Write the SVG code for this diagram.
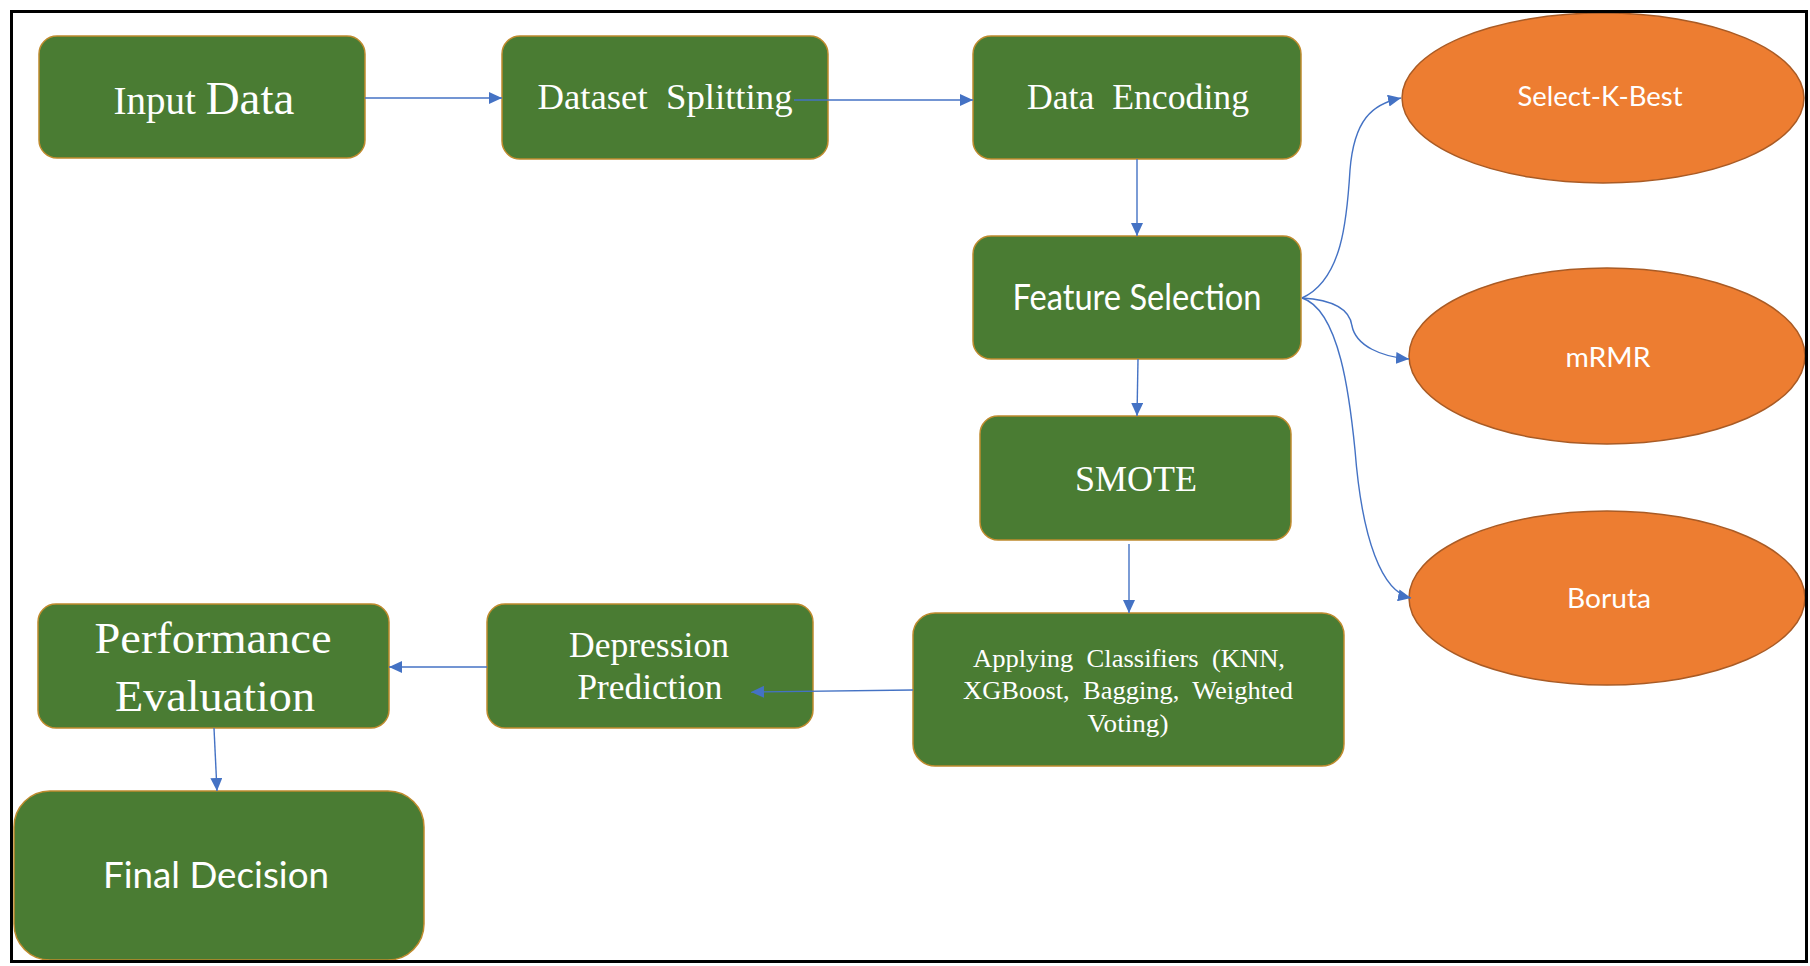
<svg xmlns="http://www.w3.org/2000/svg" width="1810" height="966" viewBox="0 0 1810 966">
<style>
.box{fill:#4A7C33;stroke:#BF8B2E;stroke-width:1.5}
.ell{fill:#ED7D31;stroke:#A95B25;stroke-width:1.5}
.serif{font-family:"Liberation Serif","Times New Roman",serif;fill:#FFFFFF}
.sans{font-family:Lato,"Open Sans","Liberation Sans",sans-serif;fill:#FFFFFF}
.c{fill:none;stroke:#4472C4;stroke-width:1.4}
</style>
<defs>
<marker id="ah" markerUnits="userSpaceOnUse" markerWidth="14" markerHeight="12" refX="13" refY="6" orient="auto">
<path d="M0,0 L13,6 L0,12 Z" fill="#4472C4"/>
</marker>
</defs>
<rect x="0" y="0" width="1810" height="966" fill="#FFFFFF"/>

<g id="select-k-best">
<ellipse class="ell" cx="1603" cy="98" rx="201" ry="85"/>
<text class="sans" x="1600" y="106" font-size="27" text-anchor="middle" textLength="165" lengthAdjust="spacingAndGlyphs">Select-K-Best</text>
</g>
<g id="mrmr">
<ellipse class="ell" cx="1607" cy="356" rx="198" ry="88"/>
<text class="sans" x="1608" y="367" font-size="27" text-anchor="middle" textLength="85" lengthAdjust="spacingAndGlyphs">mRMR</text>
</g>
<g id="boruta">
<ellipse class="ell" cx="1607" cy="598" rx="198" ry="87"/>
<text class="sans" x="1609" y="608" font-size="27" text-anchor="middle" textLength="84" lengthAdjust="spacingAndGlyphs">Boruta</text>
</g>

<g id="input-data">
<rect class="box" x="39" y="36" width="326" height="122" rx="18"/>
<text class="serif" x="204" y="114" text-anchor="middle"><tspan font-size="39">Input </tspan><tspan font-size="47">Data</tspan></text>
</g>
<g id="dataset-splitting">
<rect class="box" x="502" y="36" width="326" height="123" rx="18"/>
<text class="serif" x="665" y="109" font-size="35" text-anchor="middle" textLength="255" lengthAdjust="spacingAndGlyphs" xml:space="preserve">Dataset  Splitting</text>
</g>
<g id="data-encoding">
<rect class="box" x="973" y="36" width="328" height="123" rx="18"/>
<text class="serif" x="1138" y="109" font-size="35" text-anchor="middle" textLength="222" lengthAdjust="spacingAndGlyphs" xml:space="preserve">Data  Encoding</text>
</g>
<g id="feature-selection">
<rect class="box" x="973" y="236" width="328" height="123" rx="18"/>
<text class="sans" x="1137" y="310" font-size="36" text-anchor="middle" textLength="249" lengthAdjust="spacingAndGlyphs">Feature Selection</text>
</g>
<g id="smote">
<rect class="box" x="980" y="416" width="311" height="124" rx="18"/>
<text class="serif" x="1136" y="491" font-size="36" text-anchor="middle" textLength="122" lengthAdjust="spacingAndGlyphs">SMOTE</text>
</g>
<g id="applying-classifiers">
<rect class="box" x="913" y="613" width="431" height="153" rx="22"/>
<text class="serif" font-size="25" text-anchor="middle" xml:space="preserve"><tspan x="1129" y="667" textLength="312" lengthAdjust="spacingAndGlyphs">Applying  Classifiers  (KNN,</tspan><tspan x="1128" y="699" textLength="330" lengthAdjust="spacingAndGlyphs">XGBoost,  Bagging,  Weighted</tspan><tspan x="1128" y="732" textLength="81" lengthAdjust="spacingAndGlyphs">Voting)</tspan></text>
</g>
<g id="depression-prediction">
<rect class="box" x="487" y="604" width="326" height="124" rx="18"/>
<text class="serif" font-size="36" text-anchor="middle"><tspan x="649" y="657" textLength="160" lengthAdjust="spacingAndGlyphs">Depression</tspan><tspan x="650" y="699" textLength="145" lengthAdjust="spacingAndGlyphs">Prediction</tspan></text>
</g>
<g id="performance-evaluation">
<rect class="box" x="38" y="604" width="351" height="124" rx="18"/>
<text class="serif" font-size="45" text-anchor="middle"><tspan x="213" y="653" textLength="237" lengthAdjust="spacingAndGlyphs">Performance</tspan><tspan x="215" y="711" textLength="200" lengthAdjust="spacingAndGlyphs">Evaluation</tspan></text>
</g>
<g id="final-decision">
<rect class="box" x="14" y="791" width="410" height="169" rx="36"/>
<text class="sans" x="216" y="888" font-size="37" text-anchor="middle" textLength="226" lengthAdjust="spacingAndGlyphs">Final Decision</text>
</g>

<g id="connectors">
<path class="c" d="M365,98 L502,98" marker-end="url(#ah)"/>
<path class="c" d="M794,100 L973,100" marker-end="url(#ah)"/>
<path class="c" d="M1137,159 L1137,236" marker-end="url(#ah)"/>
<path class="c" d="M1138,359 L1137,416" marker-end="url(#ah)"/>
<path class="c" d="M1129,544 L1129,613" marker-end="url(#ah)"/>
<path class="c" d="M913,690 L751,692" marker-end="url(#ah)"/>
<path class="c" d="M487,667 L389,667" marker-end="url(#ah)"/>
<path class="c" d="M214,728 L217,791" marker-end="url(#ah)"/>
<path class="c" d="M1302,298 C1342,280 1347,220 1350,170 C1354,120 1372,104 1401,98" marker-end="url(#ah)"/>
<path class="c" d="M1302,298 C1335,300 1350,310 1352,326 C1356,346 1382,357 1409,359" marker-end="url(#ah)"/>
<path class="c" d="M1302,298 C1340,310 1350,400 1355,450 C1362,540 1382,592 1411,598" marker-end="url(#ah)"/>
</g>

<rect x="11.5" y="11.5" width="1795" height="950" fill="none" stroke="#000000" stroke-width="3"/>
</svg>
